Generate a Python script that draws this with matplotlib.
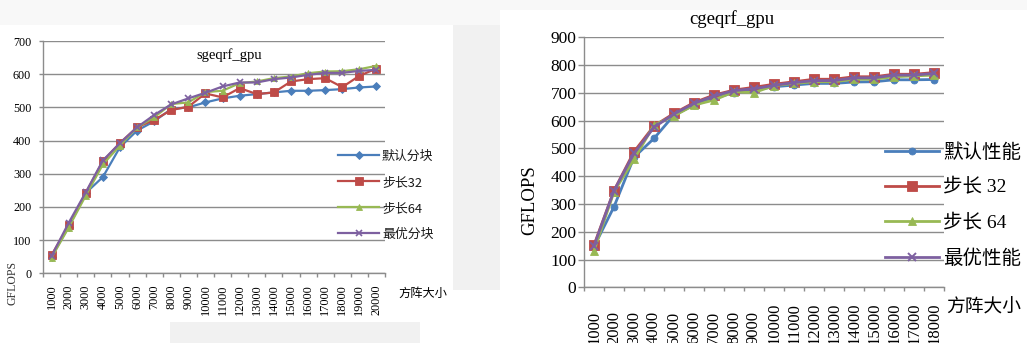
import matplotlib
matplotlib.use("Agg")
import matplotlib.pyplot as plt
from matplotlib.patches import Rectangle
import numpy as np

W, H, DPI = 1027, 343, 100

# ---- sgeqrf_gpu (single precision) ----
s_sizes = ["1000", "2000", "3000", "4000", "5000", "6000", "7000", "8000", "9000", "10000",
           "11000", "12000", "13000", "14000", "15000", "16000", "17000", "18000", "19000", "20000"]
s_default = [50, 140, 242, 290, 380, 430, 458, 495, 500, 515,
             527, 535, 540, 545, 550, 550, 552, 555, 560, 563]
s_step32 = [55, 145, 242, 338, 393, 440, 462, 492, 502, 542,
            530, 558, 540, 545, 578, 585, 588, 561, 595, 617]
s_step64 = [47, 138, 234, 328, 385, 440, 470, 510, 515, 546,
            550, 573, 578, 588, 593, 603, 608, 609, 615, 625]
s_best = [52, 152, 244, 340, 392, 440, 477, 509, 527, 544,
          563, 575, 575, 585, 590, 598, 604, 604, 610, 613]
s_labels = ["默认分块", "步长32", "步长64", "最优分块"]

# ---- cgeqrf_gpu (single complex) ----
c_sizes = ["1000", "2000", "3000", "4000", "5000", "6000", "7000", "8000", "9000",
           "10000", "11000", "12000", "13000", "14000", "15000", "16000", "17000", "18000"]
c_default = [146, 290, 468, 536, 620, 656, 680, 701, 710,
             722, 728, 734, 734, 739, 740, 747, 747, 748]
c_step32 = [152, 348, 488, 581, 626, 665, 692, 710, 720,
            731, 740, 749, 749, 758, 758, 767, 767, 773]
c_step64 = [132, 344, 461, 584, 617, 656, 674, 704, 701,
            726, 734, 740, 740, 749, 749, 758, 761, 764]
c_best = [149, 348, 482, 576, 624, 662, 689, 708, 715,
          727, 737, 744, 744, 754, 754, 764, 764, 770]
c_labels = ["默认性能", "步长 32", "步长 64", "最优性能"]

COLORS = ["#4A7EBB", "#BE4B48", "#98B954", "#7D60A0"]
GRID = "#8c8c8c"
SERIF = ["Liberation Serif", "Noto Sans CJK SC"]
CJK = ["Noto Sans CJK SC", "DejaVu Sans"]


def fx(x):
    return x / W


def fy(y):
    return 1 - y / H


def panel(ax, x0, y0, x1, y1, color):
    """Filled box given in pixel coordinates measured from the top-left corner."""
    ax.add_patch(Rectangle((fx(x0), fy(y1)), (x1 - x0) / W, (y1 - y0) / H,
                           facecolor=color, edgecolor="none"))


fig = plt.figure(figsize=(W / DPI, H / DPI), dpi=DPI, facecolor="#f1f1f1")

# page background behind both charts
bg = fig.add_axes([0, 0, 1, 1], zorder=-10)
bg.set_xlim(0, 1)
bg.set_ylim(0, 1)
bg.axis("off")
panel(bg, 0, 0, 1027, 25, "#f8f8f8")
panel(bg, 0, 25, 453, 322, "white")
panel(bg, 0, 322, 170, 343, "white")
panel(bg, 420, 290, 570, 343, "white")
panel(bg, 500, 10, 1027, 343, "white")


def style_axes(ax, n, ymax, ystep, tick_fs, ytick_len, ytick_pad):
    ax.set_facecolor("none")
    ax.set_xlim(-0.5, n - 0.5)
    ax.set_ylim(0, ymax)
    ax.set_yticks(np.arange(0, ymax + 1, ystep))
    for s in ("top", "right"):
        ax.spines[s].set_visible(False)
    for s in ("left", "bottom"):
        ax.spines[s].set_color(GRID)
        ax.spines[s].set_linewidth(1.0)
    ax.yaxis.grid(True, color=GRID, linewidth=1.0)
    ax.set_axisbelow(True)
    ax.set_xticks(np.arange(-0.5, n), minor=True)
    ax.tick_params(axis="x", which="minor", length=3, color=GRID, width=1.0)
    ax.tick_params(axis="y", which="major", length=ytick_len, color=GRID, width=1.0,
                   pad=ytick_pad, labelsize=tick_fs)
    for t in ax.get_yticklabels():
        t.set_family(SERIF)


# ---------------- left chart ----------------
axl = fig.add_axes([fx(43), fy(273.3), (385 - 43) / W, (273.3 - 41) / H])
nl = len(s_sizes)
xl = np.arange(nl)
style_axes(axl, nl, 700, 100, 8.7, 3, 5.5)
axl.set_xticks(xl)
axl.set_xticklabels(s_sizes, rotation=90, family=SERIF, fontsize=8.8, va="top")
axl.tick_params(axis="x", which="major", length=0, pad=8.0)

markers_l = [("D", 3.8), ("s", 5.5), ("^", 5.0), ("x", 5.0)]
for vals, col, (mk, ms), lab in zip([s_default, s_step32, s_step64, s_best], COLORS, markers_l, s_labels):
    axl.plot(xl, vals, color=col, lw=1.6, marker=mk, ms=ms, mew=1.2 if mk == "x" else 0.6,
             mec=col, mfc=col, label=lab)

legl = axl.legend(loc="upper left", bbox_to_anchor=(fx(338), fy(150)), bbox_transform=fig.transFigure,
                  frameon=False, prop={"family": CJK, "size": 9.3}, handlelength=3.2,
                  handletextpad=0.2, labelspacing=1.0, borderpad=0, borderaxespad=0)
for t in legl.get_texts():
    t.set_color("#1a1a1a")

fig.text(fx(229), fy(55), "sgeqrf_gpu", family=SERIF, fontsize=10.5, ha="center", va="center")
fig.text(fx(13), fy(283), "GFLOPS", family=SERIF, fontsize=8.5, rotation=90, ha="center", va="center",
         color="#333333")
fig.text(fx(398), fy(293), "方阵大小", family=CJK, fontsize=8.8, ha="left", va="center")

# ---------------- right chart ----------------
axr = fig.add_axes([fx(584), fy(287.3), (944 - 584) / W, (287.3 - 37.3) / H])
nr = len(c_sizes)
xr = np.arange(nr)
style_axes(axr, nr, 900, 100, 12.5, 4, 1.5)
axr.set_xticks(xr)
axr.set_xticklabels(c_sizes, rotation=90, family=SERIF, fontsize=12, va="bottom")
axr.tick_params(axis="x", which="major", length=0, pad=41)

markers_r = [("o", 5.0), ("s", 6.5), ("^", 6.0), ("x", 6.0)]
for vals, col, (mk, ms), lab in zip([c_default, c_step32, c_step64, c_best], COLORS, markers_r, c_labels):
    axr.plot(xr, vals, color=col, lw=2.0, marker=mk, ms=ms, mew=1.4 if mk == "x" else 0.6,
             mec=col, mfc=col, label=lab)

legr = axr.legend(loc="upper left", bbox_to_anchor=(fx(885), fy(143)), bbox_transform=fig.transFigure,
                  frameon=False, prop={"family": SERIF, "size": 14}, handlelength=2.8,
                  handletextpad=0.2, labelspacing=0.88, borderpad=0, borderaxespad=0)

fig.text(fx(732), fy(19), "cgeqrf_gpu", family=SERIF, fontsize=13.5, ha="center", va="center")
fig.text(fx(530), fy(200), "GFLOPS", family=SERIF, fontsize=13.5, rotation=90, ha="center", va="center")
fig.text(fx(946), fy(308), "方阵大小", family=SERIF, fontsize=13.5, ha="left", va="center")

fig.savefig("out.png", dpi=DPI, facecolor=fig.get_facecolor())
